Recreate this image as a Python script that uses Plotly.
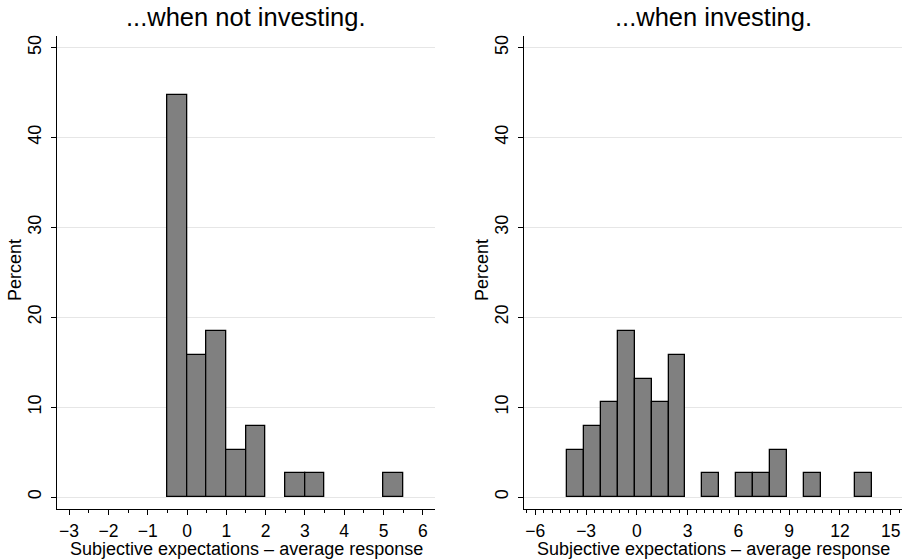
import plotly.graph_objects as go

# ---- data (percent of respondents per bin) ----
left_title = "...when not investing."
right_title = "...when investing."
x_title = "Subjective expectations \u2013 average response"
y_title = "Percent"

left_bin_start = -0.5
left_bin_width = 0.5
left_percent = [44.74, 15.79, 18.42, 5.26, 7.89, 0, 2.63, 2.63, 0, 0, 0, 2.63]

right_bin_start = -4.13
right_bin_width = 1.0
right_percent = [5.26, 7.89, 10.53, 18.42, 13.16, 10.53, 15.79, 0, 2.63, 0,
                 2.63, 2.63, 5.26, 0, 2.63, 0, 0, 2.63]

left_xticks = [-3, -2, -1, 0, 1, 2, 3, 4, 5, 6]
right_xticks = [-6, -3, 0, 3, 6, 9, 12, 15]
yticks = [0, 10, 20, 30, 40, 50]

FONT = "Liberation Sans, Arial, Helvetica, sans-serif"
W, H = 903, 559


def bins(start, width, vals):
    xs, ys = [], []
    for i, v in enumerate(vals):
        if v > 0:
            xs.append(start + width * (i + 0.5))
            ys.append(v)
    return xs, ys


fig = go.Figure()
lx, ly = bins(left_bin_start, left_bin_width, left_percent)
rx, ry = bins(right_bin_start, right_bin_width, right_percent)
bar_style = dict(color="#808080", line=dict(color="#000000", width=1.3))
fig.add_trace(go.Bar(x=lx, y=ly, width=left_bin_width, marker=bar_style,
                     xaxis="x", yaxis="y", showlegend=False, hoverinfo="skip"))
fig.add_trace(go.Bar(x=rx, y=ry, width=right_bin_width, marker=bar_style,
                     xaxis="x2", yaxis="y2", showlegend=False, hoverinfo="skip"))

ydom = [(H - 508.7) / H, (H - 36) / H]
xdom1 = [57.3 / W, 435 / W]
xdom2 = [524 / W, 902 / W]

xcommon = dict(showline=True, linecolor="black", linewidth=1, ticks="outside",
               ticklen=5, tickcolor="black", showgrid=False, zeroline=False,
               tickfont=dict(size=17.5, color="black"), automargin=False,
               ticklabelstandoff=1)
ycommon = dict(showline=True, linecolor="black", linewidth=1, ticks="outside",
               ticklen=5, tickcolor="black", showgrid=True, gridcolor="#e6e6e6",
               gridwidth=1, zeroline=False, tickangle=-90, range=[-1.3, 51.3],
               tickvals=yticks, tickfont=dict(size=18, color="black"), automargin=False,
               ticklabelstandoff=3, domain=ydom)


def ann(text, x, y, size, angle=0):
    return dict(text=text, x=x / W, y=(H - y) / H, xref="paper", yref="paper",
                showarrow=False, xanchor="center", yanchor="middle",
                textangle=angle, font=dict(size=size, color="black"))


c1 = (57.3 + 435) / 2
c2 = (524 + 902) / 2
fig.update_layout(
    width=W, height=H, margin=dict(l=0, r=0, t=0, b=0),
    paper_bgcolor="white", plot_bgcolor="white",
    font=dict(family=FONT, color="black"),
    bargap=0,
    xaxis=dict(**xcommon, domain=xdom1, range=[-3.3, 6.31], tickvals=left_xticks,
               minor=dict(tickvals=[v + 0.5 for v in left_xticks[:-1]], ticklen=3,
                          ticks="outside", tickcolor="black", showgrid=False),
               anchor="y"),
    yaxis=dict(**ycommon, anchor="x"),
    xaxis2=dict(**xcommon, domain=xdom2, range=[-6.67, 15.67], tickvals=right_xticks,
                minor=dict(dtick=0.5, tick0=0, ticklen=3, ticks="outside",
                           tickcolor="black", showgrid=False),
                anchor="y2"),
    yaxis2=dict(**ycommon, anchor="x2"),
    annotations=[
        ann(left_title, c1, 17, 25.5),
        ann(right_title, c2, 17, 25.5),
        ann(x_title, c1, 549, 18),
        ann(x_title, c2, 549, 18),
        ann(y_title, 15, 270, 18, -90),
        ann(y_title, 482, 270, 18, -90),
    ],
)

fig.write_html("out.html", config={"displayModeBar": False},
               post_script="document.body.style.margin='0';document.body.style.padding='0';")
